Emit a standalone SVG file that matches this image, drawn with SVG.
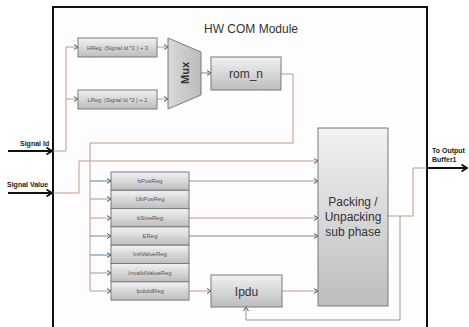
<svg xmlns="http://www.w3.org/2000/svg" width="469" height="327" viewBox="0 0 469 327">
<defs>
<linearGradient id="g" x1="0" y1="0" x2="0" y2="1">
<stop offset="0" stop-color="#f2f2f2"/><stop offset="1" stop-color="#bdbdbd"/>
</linearGradient>
<linearGradient id="gm" x1="0" y1="0" x2="1" y2="0">
<stop offset="0" stop-color="#d9d9d9"/><stop offset="1" stop-color="#bcbcbc"/>
</linearGradient>
<marker id="a" markerUnits="userSpaceOnUse" markerWidth="6" markerHeight="7" refX="4.5" refY="3" orient="auto">
<path d="M0.5,0.5 L4.5,3 L0.5,5.5" fill="none" stroke="#555" stroke-width="1"/>
</marker>
<marker id="b" markerUnits="userSpaceOnUse" markerWidth="8" markerHeight="8" refX="6" refY="4" orient="auto">
<path d="M0.5,0.5 L6,4 L0.5,7.5" fill="none" stroke="#111" stroke-width="1.8"/>
</marker>
<style>
.box{fill:url(#g);stroke:#7a7a7a;stroke-width:1}
.br{fill:none;stroke:#c59a86;stroke-width:1}
.tl{fill:none;stroke:#4f88b4;stroke-width:1}
.gy{fill:none;stroke:#9a9a9a;stroke-width:1}
.dk{fill:none;stroke:#8a8282;stroke-width:1}
.thick{fill:none;stroke:#111;stroke-width:2}
.rt{font-family:"Liberation Sans",Arial,sans-serif;font-size:6px;fill:#555;text-anchor:middle}
.lb{font-family:"Liberation Sans",Arial,sans-serif;font-size:7px;font-weight:bold;fill:#222}
.big{font-family:"Liberation Sans",Arial,sans-serif;font-size:12px;fill:#333;text-anchor:middle}
</style>
</defs>
<rect x="0" y="0" width="469" height="327" fill="#fff"/>
<g id="module">
<rect x="53" y="7" width="374" height="330" fill="#fdfdfd" stroke="#111" stroke-width="2"/>
<text x="251" y="33" class="big" style="font-size:12px">HW COM Module</text>
</g>
<g id="connectors">
<path class="br" d="M53,151 H66 V47 H78" marker-end="url(#a)"/>
<path class="br" d="M66,99 H78" marker-end="url(#a)"/>
<path class="br" d="M157,47 H168" marker-end="url(#a)"/>
<path class="br" d="M157,99 H168" marker-end="url(#a)"/>
<path class="dk" d="M201,73 H211" marker-end="url(#a)"/>
<path class="br" d="M281,74 H293 V143 H90 V291"/>
<path class="tl" d="M90,181 H111" marker-end="url(#a)"/>
<path class="gy" d="M90,199 H111" marker-end="url(#a)"/>
<path class="br" d="M90,218 H111" marker-end="url(#a)"/>
<path class="dk" d="M90,236 H111" marker-end="url(#a)"/>
<path class="tl" d="M90,255 H111" marker-end="url(#a)"/>
<path class="gy" d="M90,273 H111" marker-end="url(#a)"/>
<path class="br" d="M90,291 H111" marker-end="url(#a)"/>
<path class="br" d="M53,193 H79 V161 H318" marker-end="url(#a)"/>
<path class="gy" d="M189,181 H318" marker-end="url(#a)"/>
<path class="br" d="M189,218 H318" marker-end="url(#a)"/>
<path class="dk" d="M189,236 H318" marker-end="url(#a)"/>
<path class="br" d="M189,291 H211" marker-end="url(#a)"/>
<path class="br" d="M282,291 H318" marker-end="url(#a)"/>
<path class="br" d="M388,216 H413 V168 H427"/>
<path class="gy" d="M400,216 V320 H246 V307" marker-end="url(#a)"/>
<path class="thick" d="M8,151 H52" marker-end="url(#b)"/>
<path class="thick" d="M8,193 H52" marker-end="url(#b)"/>
<path class="thick" d="M427,168 H467" marker-end="url(#b)"/>
</g>
<g id="labels">
<text x="20" y="146" class="lb">Signal Id</text>
<text x="7" y="187" class="lb">Signal Value</text>
<text x="432" y="153" class="lb">To Output</text>
<text x="432" y="162" class="lb">Buffer1</text>
</g>
<g id="hreg"><rect class="box" x="78" y="38" width="79" height="19"/><text class="rt" x="117.5" y="49.5" style="font-size:5.6px">HReg: (Signal Id *2 ) + 3</text></g>
<g id="lreg"><rect class="box" x="78" y="90" width="79" height="19"/><text class="rt" x="117.5" y="101.5" style="font-size:5.6px">LReg: (Signal Id *2 ) + 2</text></g>
<g id="mux"><path d="M168,38 L201,52 L201,95 L168,109 Z" fill="url(#gm)" stroke="#7a7a7a"/><text class="big" transform="translate(189,73) rotate(-90)" style="font-size:11px;fill:#333;font-weight:bold">Mux</text></g>
<g id="rom_n"><rect class="box" x="211" y="57" width="70" height="33"/><text class="big" x="246" y="78">rom_n</text></g>
<g id="bPosReg"><rect class="box" x="111" y="172" width="78" height="18.3"/><text class="rt" x="150" y="183">bPosReg</text></g>
<g id="UbPosReg"><rect class="box" x="111" y="190.3" width="78" height="18.3"/><text class="rt" x="150" y="201.3">UbPosReg</text></g>
<g id="bSizeReg"><rect class="box" x="111" y="208.6" width="78" height="18.3"/><text class="rt" x="150" y="219.6">bSizeReg</text></g>
<g id="EReg"><rect class="box" x="111" y="226.9" width="78" height="18.3"/><text class="rt" x="150" y="237.9">EReg</text></g>
<g id="InitValueReg"><rect class="box" x="111" y="245.2" width="78" height="18.3"/><text class="rt" x="150" y="256.2">InitValueReg</text></g>
<g id="InvalidValueReg"><rect class="box" x="111" y="263.5" width="78" height="18.3"/><text class="rt" x="150" y="274.5">InvalidValueReg</text></g>
<g id="IpduIdReg"><rect class="box" x="111" y="281.8" width="78" height="18.3"/><text class="rt" x="150" y="292.8">IpduIdReg</text></g>
<g id="ipdu"><rect class="box" x="211" y="275" width="71" height="32"/><text class="big" x="246.5" y="295.5">Ipdu</text></g>
<g id="packing"><rect class="box" x="318" y="128" width="70" height="178"/>
<text class="big" x="353" y="206">Packing /</text><text class="big" x="353" y="221">Unpacking</text><text class="big" x="353" y="236">sub phase</text></g>
</svg>
